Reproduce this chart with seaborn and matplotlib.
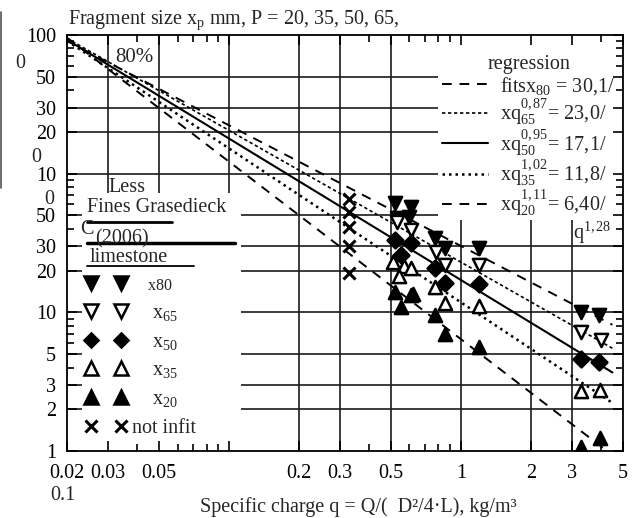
import numpy as np
import pandas as pd
import matplotlib
matplotlib.use("Agg")
import matplotlib.pyplot as plt
import seaborn as sns
from matplotlib.lines import Line2D
from matplotlib.patches import Rectangle
from matplotlib.legend_handler import HandlerTuple
from matplotlib.ticker import NullFormatter

# ---------------- data ----------------
q_x80 = [0.52, 0.61, 0.53, 0.60, 0.77, 0.85, 1.20, 3.30, 3.95]
v_x80 = [61.5, 57.5, 48.0, 49.0, 34.4, 29.1, 29.1, 10.1, 9.6]

q_x65 = [0.53, 0.61, 0.78, 0.85, 1.20, 3.30, 4.00]
v_x65 = [45.0, 39.3, 27.3, 22.0, 22.0, 7.2, 6.3]

q_x50 = [0.52, 0.61, 0.55, 0.77, 0.85, 1.20, 3.30, 3.95]
v_x50 = [33.2, 31.8, 25.9, 20.9, 16.3, 16.0, 4.6, 4.4]

q_x35 = [0.51, 0.57, 0.54, 0.61, 0.77, 0.85, 1.20, 3.30, 3.97]
v_x35 = [23.1, 21.6, 18.3, 20.9, 15.2, 11.7, 11.2, 2.71, 2.75]

q_x20 = [0.52, 0.61, 0.55, 0.62, 0.77, 0.85, 1.20, 3.30, 3.97]
v_x20 = [14.0, 13.3, 10.9, 13.5, 9.6, 6.98, 5.63, 1.07, 1.24]

q_out = [0.33, 0.33, 0.33, 0.33, 0.33]
v_out = [65.7, 53.0, 41.3, 30.1, 19.2]

# regression fits x_P = a / q^b
reg_names = ["x80", "x65", "x50", "x35", "x20"]
reg_a = [30.1, 23.0, 17.1, 11.8, 6.40]
reg_b = [0.87, 0.95, 1.02, 1.11, 1.28]
reg_q = [0.02, 4.5]

xticks = [0.02, 0.03, 0.05, 0.1, 0.2, 0.3, 0.5, 1, 2, 3, 5]
xtick_labels = ["0.02", "0.03", "0.05", "", "0.2", "0.3", "0.5", "1", "2", "3", "5"]
xminor = [0.04, 0.06, 0.07, 0.08, 0.09, 0.4, 0.6, 0.7, 0.8, 0.9, 4]
yticks = [1, 2, 3, 5, 10, 20, 30, 50, 100, 200, 300, 500, 1000]
ytick_labels = ["1", "2", "3", "5", "10", "20", "30", "50", "10", "20", "30", "50", "100"]
yminor = [4, 6, 7, 8, 9, 40, 60, 70, 80, 90, 400, 600, 700, 800, 900]

# ---------------- style ----------------
sns.set_style("ticks")
plt.rcParams["font.family"] = ["Liberation Serif", "DejaVu Serif"]
plt.rcParams["mathtext.fontset"] = "custom"
plt.rcParams["mathtext.rm"] = "Liberation Serif"
plt.rcParams["mathtext.it"] = "Liberation Serif:italic"
FS = 14.5

W, H = 637, 518
fig = plt.figure(figsize=(W / 100, H / 100), dpi=100)
ax = fig.add_axes([67 / W, 1 - 451 / H, (623 - 67) / W, (451 - 35) / H])
ax.set_xscale("log")
ax.set_yscale("log")
ax.set_xlim(0.02, 5)
ax.set_ylim(1, 1000)


def P(px, py):
    return px / W, 1 - py / H


# grid drawn manually so the white legend panels can hide it
for yv in yticks[1:-1]:
    ax.axhline(yv, color="#1a1a1a", lw=1.2, zorder=1)
for xv in xticks[1:-1]:
    ax.axvline(xv, color="#1a1a1a", lw=1.2, zorder=1)

# white panels behind the legends
ax.add_patch(Rectangle((0.027, 0.0), 0.286, 0.62, transform=ax.transAxes,
                       facecolor="white", edgecolor="none", zorder=1.5))
ax.add_patch(Rectangle((0.667, 0.555), 0.333, 0.445, transform=ax.transAxes,
                       facecolor="white", edgecolor="none", zorder=1.5))

# regression lines
styles = [(0, (5, 4)), (0, (2, 1.6)), "-", (0, (1, 1.6)), (0, (5, 4))]
widths = [1.4, 1.2, 1.5, 1.8, 1.4]
reg_handles = []
for name, a, b, ls, lw in zip(reg_names, reg_a, reg_b, styles, widths):
    yv = [a / qq ** b for qq in reg_q]
    sns.lineplot(x=reg_q, y=yv, ax=ax, color="black", lw=lw, zorder=2)
    ln = ax.lines[-1]
    ln.set_linestyle(ls)
    reg_handles.append(Line2D([], [], color="black", lw=lw, linestyle=ls))

# scatter series
series = [
    (q_x80, v_x80, "v", "black"),
    (q_x65, v_x65, "v", "white"),
    (q_x50, v_x50, "D", "black"),
    (q_x35, v_x35, "^", "white"),
    (q_x20, v_x20, "^", "black"),
]
for qv, vv, mk, fc in series:
    df = pd.DataFrame({"q": qv, "x": vv})
    s = 65 if mk == "D" else 90
    sns.scatterplot(data=df, x="q", y="x", ax=ax, marker=mk, s=s,
                    facecolor=fc, edgecolor="black", linewidth=1.8, zorder=3)
df_out = pd.DataFrame({"q": q_out, "x": v_out})
sns.scatterplot(data=df_out, x="q", y="x", ax=ax, marker="x", s=75,
                color="black", linewidth=2.2, zorder=3)

# ticks
ax.set_xticks(xticks, xtick_labels)
ax.set_xticks(xminor, minor=True)
ax.xaxis.set_minor_formatter(NullFormatter())
ax.set_yticks(yticks, ytick_labels)
ax.set_yticks(yminor, minor=True)
ax.yaxis.set_minor_formatter(NullFormatter())
ax.tick_params(which="both", direction="in", top=True, right=True,
               labelsize=FS, width=1.2, colors="black")
ax.tick_params(which="major", length=7)
ax.tick_params(which="minor", length=5)
ax.tick_params(axis="y", pad=8)
ax.tick_params(axis="x", pad=9)
ax.set_axisbelow(False)
for sp in ax.spines.values():
    sp.set_linewidth(1.3)
    sp.set_color("black")
ax.set_xlabel("")
ax.set_ylabel("")

# left legend (two marker columns per row)
def mk_handle(marker, fc, size=9.5):
    return Line2D([], [], linestyle="none", marker=marker, markersize=size,
                  markerfacecolor=fc, markeredgecolor="black", markeredgewidth=1.8)

left_handles = []
for qv, vv, mk, fc in series:
    sz = 7.5 if mk == "D" else 9.5
    left_handles.append((mk_handle(mk, fc, sz), mk_handle(mk, fc, sz)))
xh = Line2D([], [], linestyle="none", marker="x", markersize=8.5,
            markeredgecolor="black", markeredgewidth=2.2)
left_handles.append((xh, xh))
left_labels = ["    x80", r"    x$_{65}$", r"    x$_{50}$", r"    x$_{35}$",
               r"    x$_{20}$", "not infit"]
leg1 = ax.legend(left_handles, left_labels, handler_map={tuple: HandlerTuple(ndivide=None, pad=0)},
                 loc="upper left", bbox_to_anchor=P(76, 276), bbox_transform=fig.transFigure,
                 frameon=False, fontsize=FS, handlelength=3.0, handletextpad=-0.2,
                 labelspacing=0.48, borderpad=0, borderaxespad=0)
leg1.get_texts()[0].set_fontsize(11.5)
ax.add_artist(leg1)

# right legend (regression)
reg_labels = [r"fitsx$_{80}$ = 30,1/", r"xq$^{0,87}_{65}$= 23,0/", r"xq$^{0,95}_{50}$= 17,1/",
              r"xq$^{1,02}_{35}$= 11,8/", r"xq$^{1,11}_{20}$= 6,40/"]
leg2 = ax.legend(reg_handles, reg_labels, title="regression", loc="upper left",
                 bbox_to_anchor=P(442, 55), bbox_transform=fig.transFigure,
                 frameon=False, fontsize=FS, title_fontsize=FS, handlelength=2.3,
                 handletextpad=0.6, labelspacing=0.05, borderpad=0, borderaxespad=0)
fig.text(*P(573, 233), r"q$^{1,28}$", fontsize=FS, va="center", ha="left")

# left legend heading (garbled original)
fig.text(*P(108, 187), "Less", fontsize=FS, va="center")
fig.text(*P(87, 208), "Fines Grasedieck", fontsize=FS, va="center")
fig.text(*P(80, 229), "C", fontsize=FS, va="center")
fig.text(*P(95, 239), "(2006)", fontsize=FS, va="center")
fig.text(*P(90, 258), "limestone", fontsize=FS, va="center")
for x0, x1, yy, lw in [(87, 172, 222, 2.0), (87, 235, 243, 2.5), (87, 194, 266, 1.3)]:
    fig.add_artist(Line2D([x0 / W, x1 / W], [1 - yy / H, 1 - yy / H], color="black", lw=lw))

# other texts
fig.text(*P(68, 20), r"Fragment size x$_\mathrm{p}$ mm, P = 20, 35, 50, 65,", fontsize=FS, va="center")
fig.text(*P(115, 57), "80%", fontsize=15, va="center")
fig.text(*P(20, 63), "0", fontsize=FS, va="center", ha="center")
fig.text(*P(36, 157), "0", fontsize=FS, va="center", ha="center")
fig.text(*P(49, 199), "0", fontsize=FS, va="center", ha="center")
fig.text(*P(50, 496), "0.1", fontsize=FS, va="center")
fig.text(*P(358, 507), "Specific charge q = Q/(  D²/4·L), kg/m³", fontsize=FS,
         va="center", ha="center")
fig.add_artist(Line2D([1.5 / W, 1.5 / W], [1 - 12 / H, 1 - 188 / H], color="#555555", lw=1.2))

fig.savefig("out.png", dpi=100)
